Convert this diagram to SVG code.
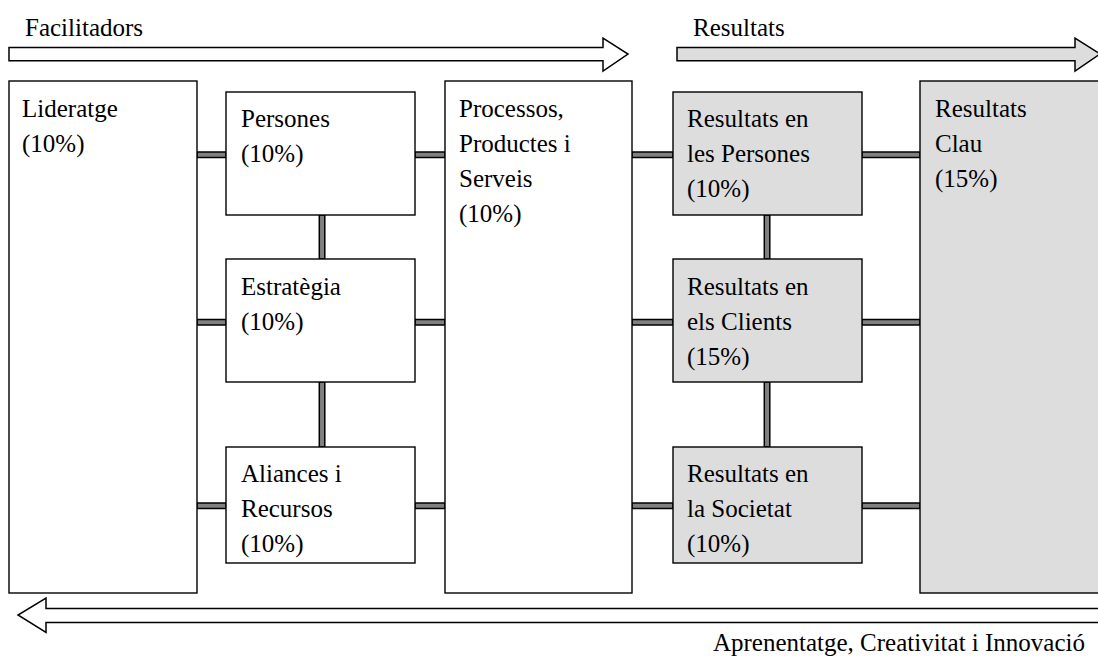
<svg xmlns="http://www.w3.org/2000/svg" width="1098" height="657" viewBox="0 0 1098 657" font-family="'Liberation Serif', 'DejaVu Serif', serif">
  <style>
    .box { fill: #ffffff; stroke: #000000; stroke-width: 1.4; }
    .res { fill: #dddddd; stroke: #000000; stroke-width: 1.4; }
    .link { fill: #808080; stroke: #000000; stroke-width: 1.5; }
    .arrow { fill: #ffffff; stroke: #000000; stroke-width: 1.5; stroke-linejoin: miter; }
    .arrow-res { fill: #dddddd; stroke: #000000; stroke-width: 1.5; }
    .t { font-family: 'Liberation Serif', 'DejaVu Serif', serif; font-size: 25px; fill: #000000; }
  </style>

  <!-- banner arrows -->
  <g id="arrow-facilitadors">
    <polygon class="arrow" points="9,47.5 603,47.5 603,38 628,54 603,71 603,60.7 9,60.7"/>
    <text class="t" x="25" y="36">Facilitadors</text>
  </g>
  <g id="arrow-resultats">
    <polygon class="arrow-res" points="677,47.5 1075,47.5 1075,38 1100,54 1075,71 1075,60.7 677,60.7"/>
    <text class="t" x="693" y="36">Resultats</text>
  </g>
  <g id="arrow-aprenentatge">
    <polygon class="arrow" points="1102,608.5 46,608.5 46,598 18,615 46,632.5 46,622.5 1102,622.5"/>
    <text class="t" x="1085" y="651" text-anchor="end">Aprenentatge, Creativitat i Innovació</text>
  </g>

  <!-- connectors -->
  <g id="connectors">
    <rect class="link" x="197" y="152" width="29" height="5.5"/>
    <rect class="link" x="415" y="152" width="30" height="5.5"/>
    <rect class="link" x="632" y="152" width="41" height="5.5"/>
    <rect class="link" x="862" y="152" width="58" height="5.5"/>

    <rect class="link" x="197" y="319.5" width="29" height="5.5"/>
    <rect class="link" x="415" y="319.5" width="30" height="5.5"/>
    <rect class="link" x="632" y="319.5" width="41" height="5.5"/>
    <rect class="link" x="862" y="319.5" width="58" height="5.5"/>

    <rect class="link" x="197" y="503" width="29" height="5.5"/>
    <rect class="link" x="415" y="503" width="30" height="5.5"/>
    <rect class="link" x="632" y="503" width="41" height="5.5"/>
    <rect class="link" x="862" y="503" width="58" height="5.5"/>

    <rect class="link" x="319.3" y="215" width="5.5" height="44"/>
    <rect class="link" x="319.3" y="382" width="5.5" height="65"/>
    <rect class="link" x="764.3" y="215" width="5.5" height="44"/>
    <rect class="link" x="764.3" y="382" width="5.5" height="65"/>
  </g>

  <!-- enablers -->
  <g id="lideratge">
    <rect class="box" x="9" y="81" width="188" height="512"/>
    <text class="t" x="22" y="117">Lideratge</text>
    <text class="t" x="22" y="152">(10%)</text>
  </g>
  <g id="persones">
    <rect class="box" x="226" y="92" width="189" height="123"/>
    <text class="t" x="241" y="127">Persones</text>
    <text class="t" x="241" y="162">(10%)</text>
  </g>
  <g id="estrategia">
    <rect class="box" x="226" y="259" width="189" height="123"/>
    <text class="t" x="241" y="295">Estratègia</text>
    <text class="t" x="241" y="330">(10%)</text>
  </g>
  <g id="aliances">
    <rect class="box" x="226" y="447" width="189" height="116"/>
    <text class="t" x="241" y="482">Aliances i</text>
    <text class="t" x="241" y="517">Recursos</text>
    <text class="t" x="241" y="552">(10%)</text>
  </g>
  <g id="processos">
    <rect class="box" x="445" y="81" width="187" height="512"/>
    <text class="t" x="459" y="117">Processos,</text>
    <text class="t" x="459" y="152">Productes i</text>
    <text class="t" x="459" y="187">Serveis</text>
    <text class="t" x="459" y="222">(10%)</text>
  </g>

  <!-- results -->
  <g id="resultats-persones">
    <rect class="res" x="673" y="92" width="189" height="123"/>
    <text class="t" x="687" y="127">Resultats en</text>
    <text class="t" x="687" y="162">les Persones</text>
    <text class="t" x="687" y="197">(10%)</text>
  </g>
  <g id="resultats-clients">
    <rect class="res" x="673" y="259" width="189" height="123"/>
    <text class="t" x="687" y="295">Resultats en</text>
    <text class="t" x="687" y="330">els Clients</text>
    <text class="t" x="687" y="365">(15%)</text>
  </g>
  <g id="resultats-societat">
    <rect class="res" x="673" y="447" width="189" height="116"/>
    <text class="t" x="687" y="482">Resultats en</text>
    <text class="t" x="687" y="517">la Societat</text>
    <text class="t" x="687" y="552">(10%)</text>
  </g>
  <g id="resultats-clau">
    <rect class="res" x="920" y="81" width="190" height="512"/>
    <text class="t" x="935" y="117">Resultats</text>
    <text class="t" x="935" y="152">Clau</text>
    <text class="t" x="935" y="187">(15%)</text>
  </g>
</svg>
